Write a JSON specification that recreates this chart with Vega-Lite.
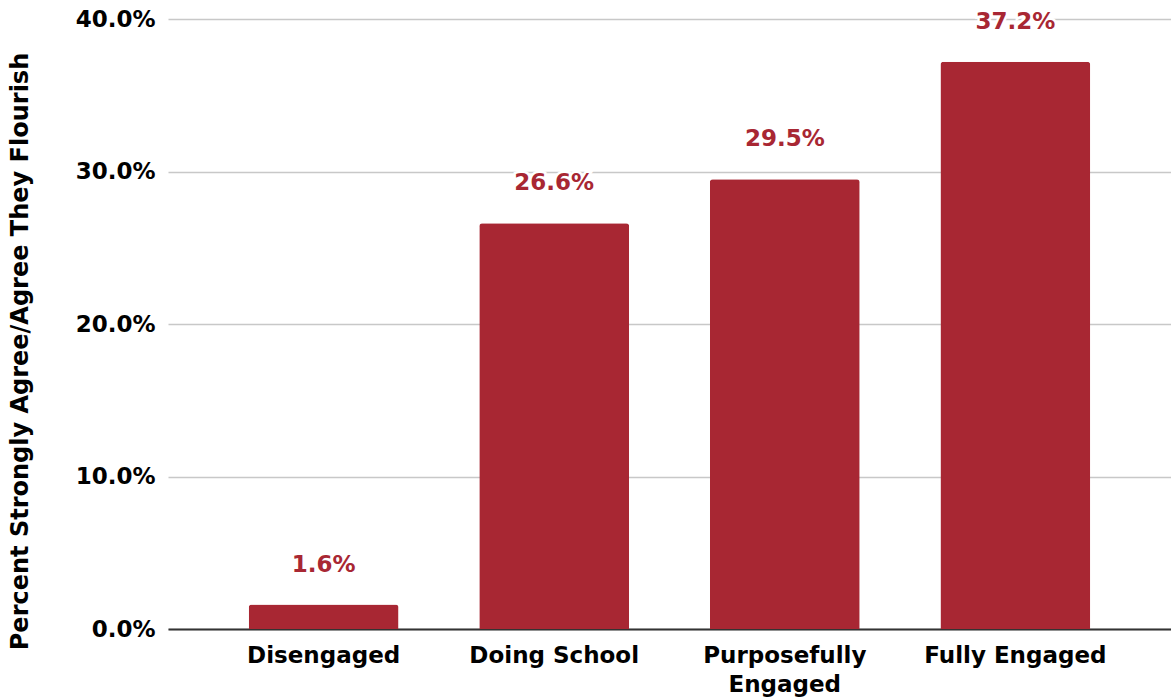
{
  "$schema": "https://vega.github.io/schema/vega-lite/v6.json",
  "width": 1003,
  "height": 610,
  "autosize": {"type": "none"},
  "padding": {"left": 168, "top": 19, "right": 0, "bottom": 71},
  "background": "white",
  "config": {
    "view": {"stroke": null},
    "font": "DejaVu Sans"
  },
  "data": {
    "values": [
      {"group": "Disengaged", "value": 0.016},
      {"group": "Doing School", "value": 0.266},
      {"group": "Purposefully Engaged", "value": 0.295},
      {"group": "Fully Engaged", "value": 0.372}
    ]
  },
  "encoding": {
    "x": {
      "field": "group",
      "type": "nominal",
      "sort": null,
      "scale": {"paddingInner": 0.35, "paddingOuter": 0.35},
      "axis": {
        "title": null,
        "labelAngle": 0,
        "labelFont": "DejaVu Sans",
        "labelFontWeight": "bold",
        "labelFontSize": 23,
        "labelColor": "#000000",
        "labelPadding": 15,
        "labelLineHeight": 29,
        "labelLimit": 400,
        "labelOverlap": false,
        "labelExpr": "datum.label == 'Purposefully Engaged' ? ['Purposefully', 'Engaged'] : datum.label",
        "ticks": false,
        "domainColor": "#333333",
        "domainWidth": 2,
        "grid": false
      }
    },
    "y": {
      "field": "value",
      "type": "quantitative",
      "scale": {"domain": [0, 0.4]},
      "axis": {
        "title": "Percent Strongly Agree/Agree They Flourish",
        "titleFont": "DejaVu Sans",
        "titleFontWeight": "bold",
        "titleFontSize": 24,
        "titleColor": "#000000",
        "titleX": -148,
        "titleY": 332,
        "titleAlign": "center",
        "titleBaseline": "middle",
        "titleAngle": -90,
        "format": ".1%",
        "values": [0, 0.1, 0.2, 0.3, 0.4],
        "labelOverlap": false,
        "labelFont": "DejaVu Sans",
        "labelFontWeight": "bold",
        "labelFontSize": 23,
        "labelColor": "#000000",
        "labelPadding": 13,
        "ticks": false,
        "domain": false,
        "grid": true,
        "gridColor": "#c8c8c8",
        "gridWidth": 1.5
      }
    }
  },
  "layer": [
    {
      "mark": {"type": "bar", "color": "#A82733", "cornerRadiusTopLeft": 3, "cornerRadiusTopRight": 3}
    },
    {
      "mark": {
        "type": "text",
        "dy": -40,
        "baseline": "middle",
        "align": "center",
        "font": "DejaVu Sans",
        "fontWeight": "bold",
        "fontSize": 23,
        "color": "#A82733",
        "stroke": "white",
        "strokeWidth": 5,
        "strokeOpacity": 1
      },
      "encoding": {"text": {"field": "value", "type": "quantitative", "format": ".1%"}}
    },
    {
      "mark": {
        "type": "text",
        "dy": -40,
        "baseline": "middle",
        "align": "center",
        "font": "DejaVu Sans",
        "fontWeight": "bold",
        "fontSize": 23,
        "color": "#A82733"
      },
      "encoding": {"text": {"field": "value", "type": "quantitative", "format": ".1%"}}
    }
  ]
}
